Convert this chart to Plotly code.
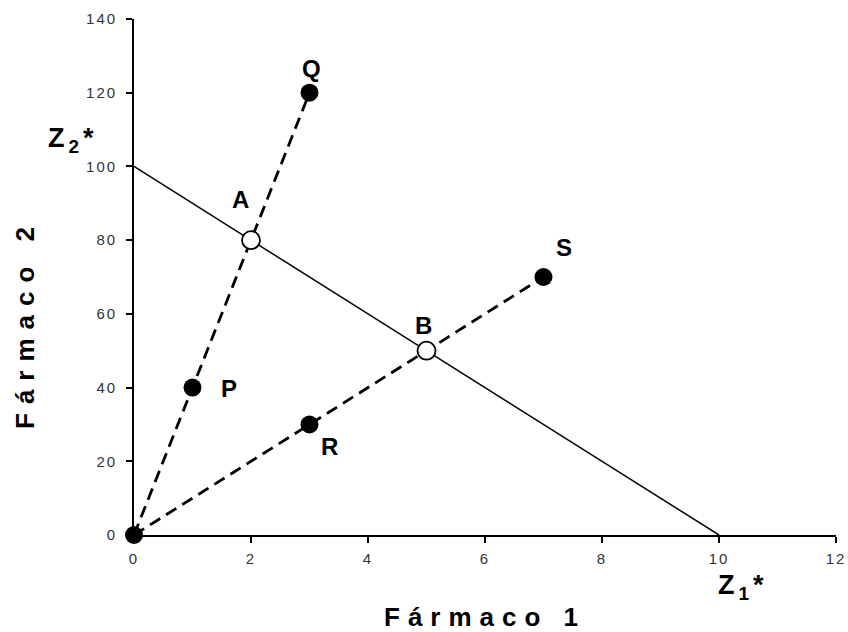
import plotly.graph_objects as go

# Data
iso_x = [0, 10]
iso_y = [100, 0]
ray1_x = [0, 1, 2, 3]
ray1_y = [0, 40, 80, 120]
ray2_x = [0, 3, 5, 7]
ray2_y = [0, 30, 50, 70]
filled_x = [0, 1, 3, 3, 7]
filled_y = [0, 40, 120, 30, 70]
open_x = [2, 5]
open_y = [80, 50]
point_labels = ["Q", "A", "P", "B", "R", "S"]
label_x = [3, 2, 1, 5, 3, 7]
label_y = [120, 80, 40, 50, 30, 70]
x_tickvals = [0, 2, 4, 6, 8, 10, 12]
y_tickvals = [0, 20, 40, 60, 80, 100, 120, 140]

def spaced(t, px):
    return '<span style="letter-spacing:%spx">%s</span>' % (px, t)

# plot area in window pixels
PL, PR, PT, PB = 134, 836, 19, 535
PW, PH = PR - PL, PB - PT

def px(xp):
    return (xp - PL) / PW

def py(yp):
    return (PB - yp) / PH

fig = go.Figure()
fig.add_trace(go.Scatter(x=iso_x, y=iso_y, mode="lines",
                         line=dict(color="black", width=1.5), showlegend=False))
for xs, ys in [(ray1_x, ray1_y), (ray2_x, ray2_y)]:
    fig.add_trace(go.Scatter(x=xs, y=ys, mode="lines",
                             line=dict(color="black", width=2.8, dash="12px,7px"),
                             showlegend=False))
fig.add_trace(go.Scatter(x=filled_x, y=filled_y, mode="markers",
                         marker=dict(color="black", size=18, line=dict(color="black", width=0)),
                         showlegend=False))
fig.add_trace(go.Scatter(x=open_x, y=open_y, mode="markers",
                         marker=dict(color="white", size=18, line=dict(color="black", width=1.8)),
                         showlegend=False))

offsets = {"Q": (2, -24), "A": (-11, -41), "P": (36, 1), "B": (-3, -25), "R": (20, 22), "S": (20, -30)}
for lab, x, y in zip(point_labels, label_x, label_y):
    dx, dy = offsets[lab]
    fig.add_annotation(x=x, y=y, text="<b>%s</b>" % lab, showarrow=False,
                       xshift=dx, yshift=-dy, font=dict(size=24, color="black", family="Arial"))

zlab = '<b><span style="letter-spacing:4px">Z<sub>%s</sub>*</span></b>'
fig.add_annotation(xref="paper", yref="paper", x=px(73), y=py(140), xanchor="center", yanchor="middle",
                   text=zlab % "2",
                   showarrow=False, font=dict(size=27, color="black", family="Arial"))
fig.add_annotation(xref="paper", yref="paper", x=px(743), y=py(587), xanchor="center", yanchor="middle",
                   text=zlab % "1",
                   showarrow=False, font=dict(size=27, color="black", family="Arial"))

# Axis titles
fig.add_annotation(xref="paper", yref="paper", x=px(485), y=py(617), xanchor="center", yanchor="middle",
                   text="<b>" + spaced("Fármaco 1", 8) + "</b>", showarrow=False,
                   font=dict(size=26, color="black", family="Arial"))
fig.add_annotation(xref="paper", yref="paper", x=px(25), y=py(323), xanchor="center", yanchor="middle",
                   text="<b>" + spaced("Fármaco 2", 9) + "</b>", showarrow=False, textangle=-90,
                   font=dict(size=26, color="black", family="Arial"))

fig.update_layout(
    width=848, height=632,
    margin=dict(l=PL, r=848 - PR, t=PT, b=632 - PB),
    paper_bgcolor="white", plot_bgcolor="white",
    font=dict(family="Arial", color="black"),
    xaxis=dict(range=[0, 12], tickvals=x_tickvals, ticktext=[spaced(str(v), 2) for v in x_tickvals],
               showgrid=False, zeroline=False, automargin=False,
               showline=True, linecolor="black", linewidth=1.8, ticks="outside", ticklen=6, tickwidth=1.5,
               tickcolor="black", tickfont=dict(size=15, color="#333"), ticklabelstandoff=3),
    yaxis=dict(range=[0, 140], tickvals=y_tickvals, ticktext=[spaced(str(v), 2) for v in y_tickvals],
               showgrid=False, zeroline=False, automargin=False,
               showline=True, linecolor="black", linewidth=1.8, ticks="outside", ticklen=6, tickwidth=1.5,
               tickcolor="black", tickfont=dict(size=15, color="#333"), ticklabelstandoff=6),
)
fig.update_traces(cliponaxis=False)
fig.write_html("out.html", config={"displayModeBar": False},
               post_script="document.body.style.margin='0';document.body.style.overflow='hidden';")
